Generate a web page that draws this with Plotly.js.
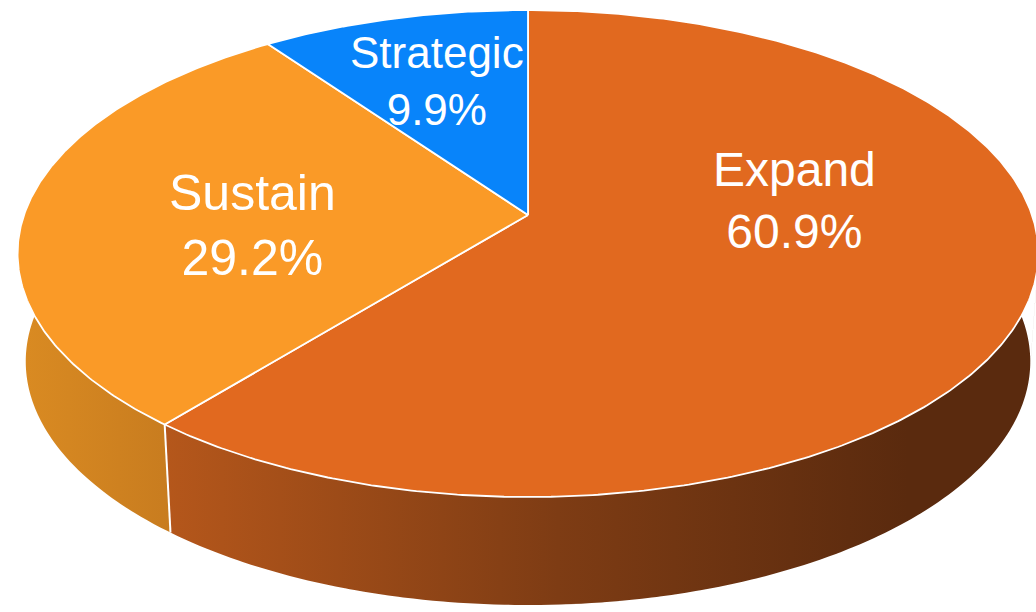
<!DOCTYPE html>
<html>
<head>
<meta charset="utf-8">
<script src="https://cdn.plot.ly/plotly-3.0.1.min.js"></script>
<style>html,body{margin:0;padding:0;background:#fff;}#chart{width:1036px;height:612px;}</style>
</head>
<body>
<div id="chart"></div>
<script>
// ---- data ----
const categories = ['Expand', 'Sustain', 'Strategic'];
const shares = [60.9, 29.2, 9.9];
const percentLabels = ['60.9%', '29.2%', '9.9%'];

// ---- styles ----
const topColors = ['#E1691F', '#FA9A27', '#0884FA'];
const sideScales = [
  [[0, '#B5571B'], [0.45, '#7E3C14'], [0.85, '#5A2A0E'], [1, '#5A2A0E']],
  [[0, '#DA8B22'], [1, '#C87C1F']],
  [[0, '#0668C8'], [1, '#0555A8']]
];
const labelPos = [[794, 200], [252, 225], [437, 81]];
const labelSize = [48, 50, 44];

// ---- pseudo-3D geometry ----
const cx = 528, cy = 215, R = 504, Ry = 237.4, k = 0.1582, T = 108, bottomScale = 0.984;
function proj(phiDeg, bottom) {
  const th = (90 - phiDeg) * Math.PI / 180;
  const c = Math.cos(th), s = Math.sin(th);
  const d = 1 + k * s;
  const sc = bottom ? bottomScale : 1;
  return [cx + sc * R * c / d, cy - Ry * s / d + (bottom ? T : 0)];
}
function arc(a0, a1, bottom) {
  const n = Math.max(2, Math.ceil(Math.abs(a1 - a0) / 0.5));
  const pts = [];
  for (let i = 0; i <= n; i++) pts.push(proj(a0 + (a1 - a0) * i / n, bottom));
  return pts;
}

const total = shares.reduce((a, b) => a + b, 0);
const starts = [], ends = [];
let acc = 0;
shares.forEach(v => { starts.push(acc / total * 360); acc += v; ends.push(acc / total * 360); });

const traces = [];
const VIS0 = 60, VIS1 = 300;
// side faces: built from overlapping strips so the silhouette is covered
shares.forEach((v, i) => {
  const a0 = Math.max(starts[i], VIS0), a1 = Math.min(ends[i], VIS1);
  if (a1 <= a0) return;
  const n = Math.ceil((a1 - a0) / 0.5);
  const step = (a1 - a0) / n;
  const xs = [], ys = [];
  for (let j = 0; j < n; j++) {
    const b0 = a0 + j * step, b1 = Math.min(a1, a0 + (j + 2) * step);
    const t0 = proj(b0, false), t1 = proj(b1, false), q1 = proj(b1, true), q0 = proj(b0, true);
    [t0, t1, q1, q0, t0].forEach(p => { xs.push(p[0]); ys.push(p[1]); });
    xs.push(null); ys.push(null);
  }
  traces.push({
    type: 'scatter', mode: 'lines', hoverinfo: 'skip', showlegend: false,
    x: xs, y: ys, connectgaps: false,
    line: {width: 0, color: 'rgba(0,0,0,0)'},
    fill: 'toself',
    fillgradient: {type: 'horizontal', colorscale: sideScales[i]}
  });
});
// visible vertical edges of the side
ends.forEach((a) => {
  if (a > VIS0 + 20 && a < VIS1 - 20) {
    const p = proj(a, false), q = proj(a, true);
    traces.push({
      type: 'scatter', mode: 'lines', hoverinfo: 'skip', showlegend: false,
      x: [p[0], q[0]], y: [p[1], q[1]], line: {color: '#ffffff', width: 2}
    });
  }
});
// top faces
shares.forEach((v, i) => {
  const pts = [[cx, cy]].concat(arc(starts[i], ends[i], false));
  pts.push([cx, cy]);
  traces.push({
    type: 'scatter', mode: 'lines', hoverinfo: 'skip', showlegend: false,
    name: categories[i],
    x: pts.map(p => p[0]), y: pts.map(p => p[1]),
    line: {color: '#ffffff', width: 1.8},
    fill: 'toself', fillcolor: topColors[i]
  });
});

const annotations = categories.map((c, i) => ({
  x: labelPos[i][0], y: labelPos[i][1], xref: 'x', yref: 'y',
  text: c + '<br>' + percentLabels[i], showarrow: false,
  font: {family: '"Liberation Sans", Arial, sans-serif', size: labelSize[i], color: '#ffffff'},
  align: 'center', xanchor: 'center', yanchor: 'middle'
}));

const layout = {
  width: 1036, height: 612,
  margin: {l: 0, r: 0, t: 0, b: 0},
  paper_bgcolor: '#ffffff', plot_bgcolor: '#ffffff',
  xaxis: {range: [0, 1036], visible: false, fixedrange: true},
  yaxis: {range: [612, 0], visible: false, fixedrange: true},
  showlegend: false,
  annotations: annotations
};
Plotly.newPlot('chart', traces, layout, {displayModeBar: false, staticPlot: true});
</script>
</body>
</html>
